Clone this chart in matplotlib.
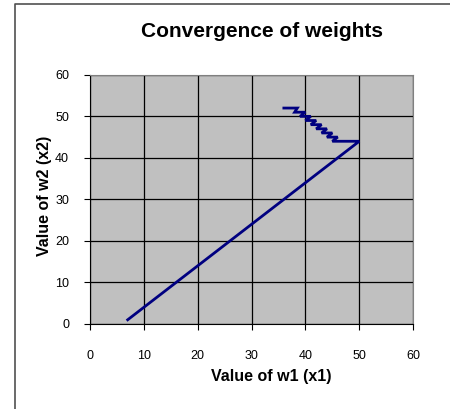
import matplotlib
matplotlib.use("Agg")
import matplotlib.pyplot as plt
from matplotlib.lines import Line2D

plt.rcParams['font.family'] = ['Liberation Sans', 'DejaVu Sans']

# path of the weights (w1, w2)
w1 = [7, 50, 45, 46, 44, 45, 43, 44, 42, 43, 41, 42, 40, 41, 39, 40, 38, 38.5, 36]
w2 = [1, 44, 44, 45, 45, 46, 46, 47, 47, 48, 48, 49, 49, 50, 50, 51, 51, 52, 52]

ticks = [0, 10, 20, 30, 40, 50, 60]

fig = plt.figure(figsize=(4.5, 4.09), dpi=100)
# chart frame (only top and left edges visible)
fig.lines.append(Line2D([0.033, 0.033, 1.0], [0.0, 0.989, 0.989], transform=fig.transFigure,
                        color='#505050', linewidth=1.2))

ax = fig.add_axes([0.2, 0.208, 0.718, 0.609], facecolor='#c0c0c0')
ax.plot(w1, w2, color='#000080', linewidth=2, solid_joinstyle='miter')

ax.set_xlim(0, 60)
ax.set_ylim(0, 60)
ax.set_xticks(ticks)
ax.set_yticks(ticks)
ax.grid(True, color='black', linewidth=0.9)
ax.set_axisbelow(True)
for s in ax.spines.values():
    s.set_color('#808080')
ax.spines['left'].set_color('black')
ax.spines['bottom'].set_color('black')
ax.tick_params(axis='x', length=4, pad=15, labelsize=9)
ax.tick_params(axis='y', length=4, pad=11, labelsize=9)

ax.set_xlabel('Value of w1 (x1)', fontsize=11.5, fontweight='bold', labelpad=5, x=0.56)
ax.set_ylabel('Value of w2 (x2)', fontsize=11.5, fontweight='bold', labelpad=2, y=0.515)
fig.suptitle('Convergence of weights', fontsize=15, fontweight='bold', x=0.583, y=0.945)

plt.savefig('out.png', dpi=100)
